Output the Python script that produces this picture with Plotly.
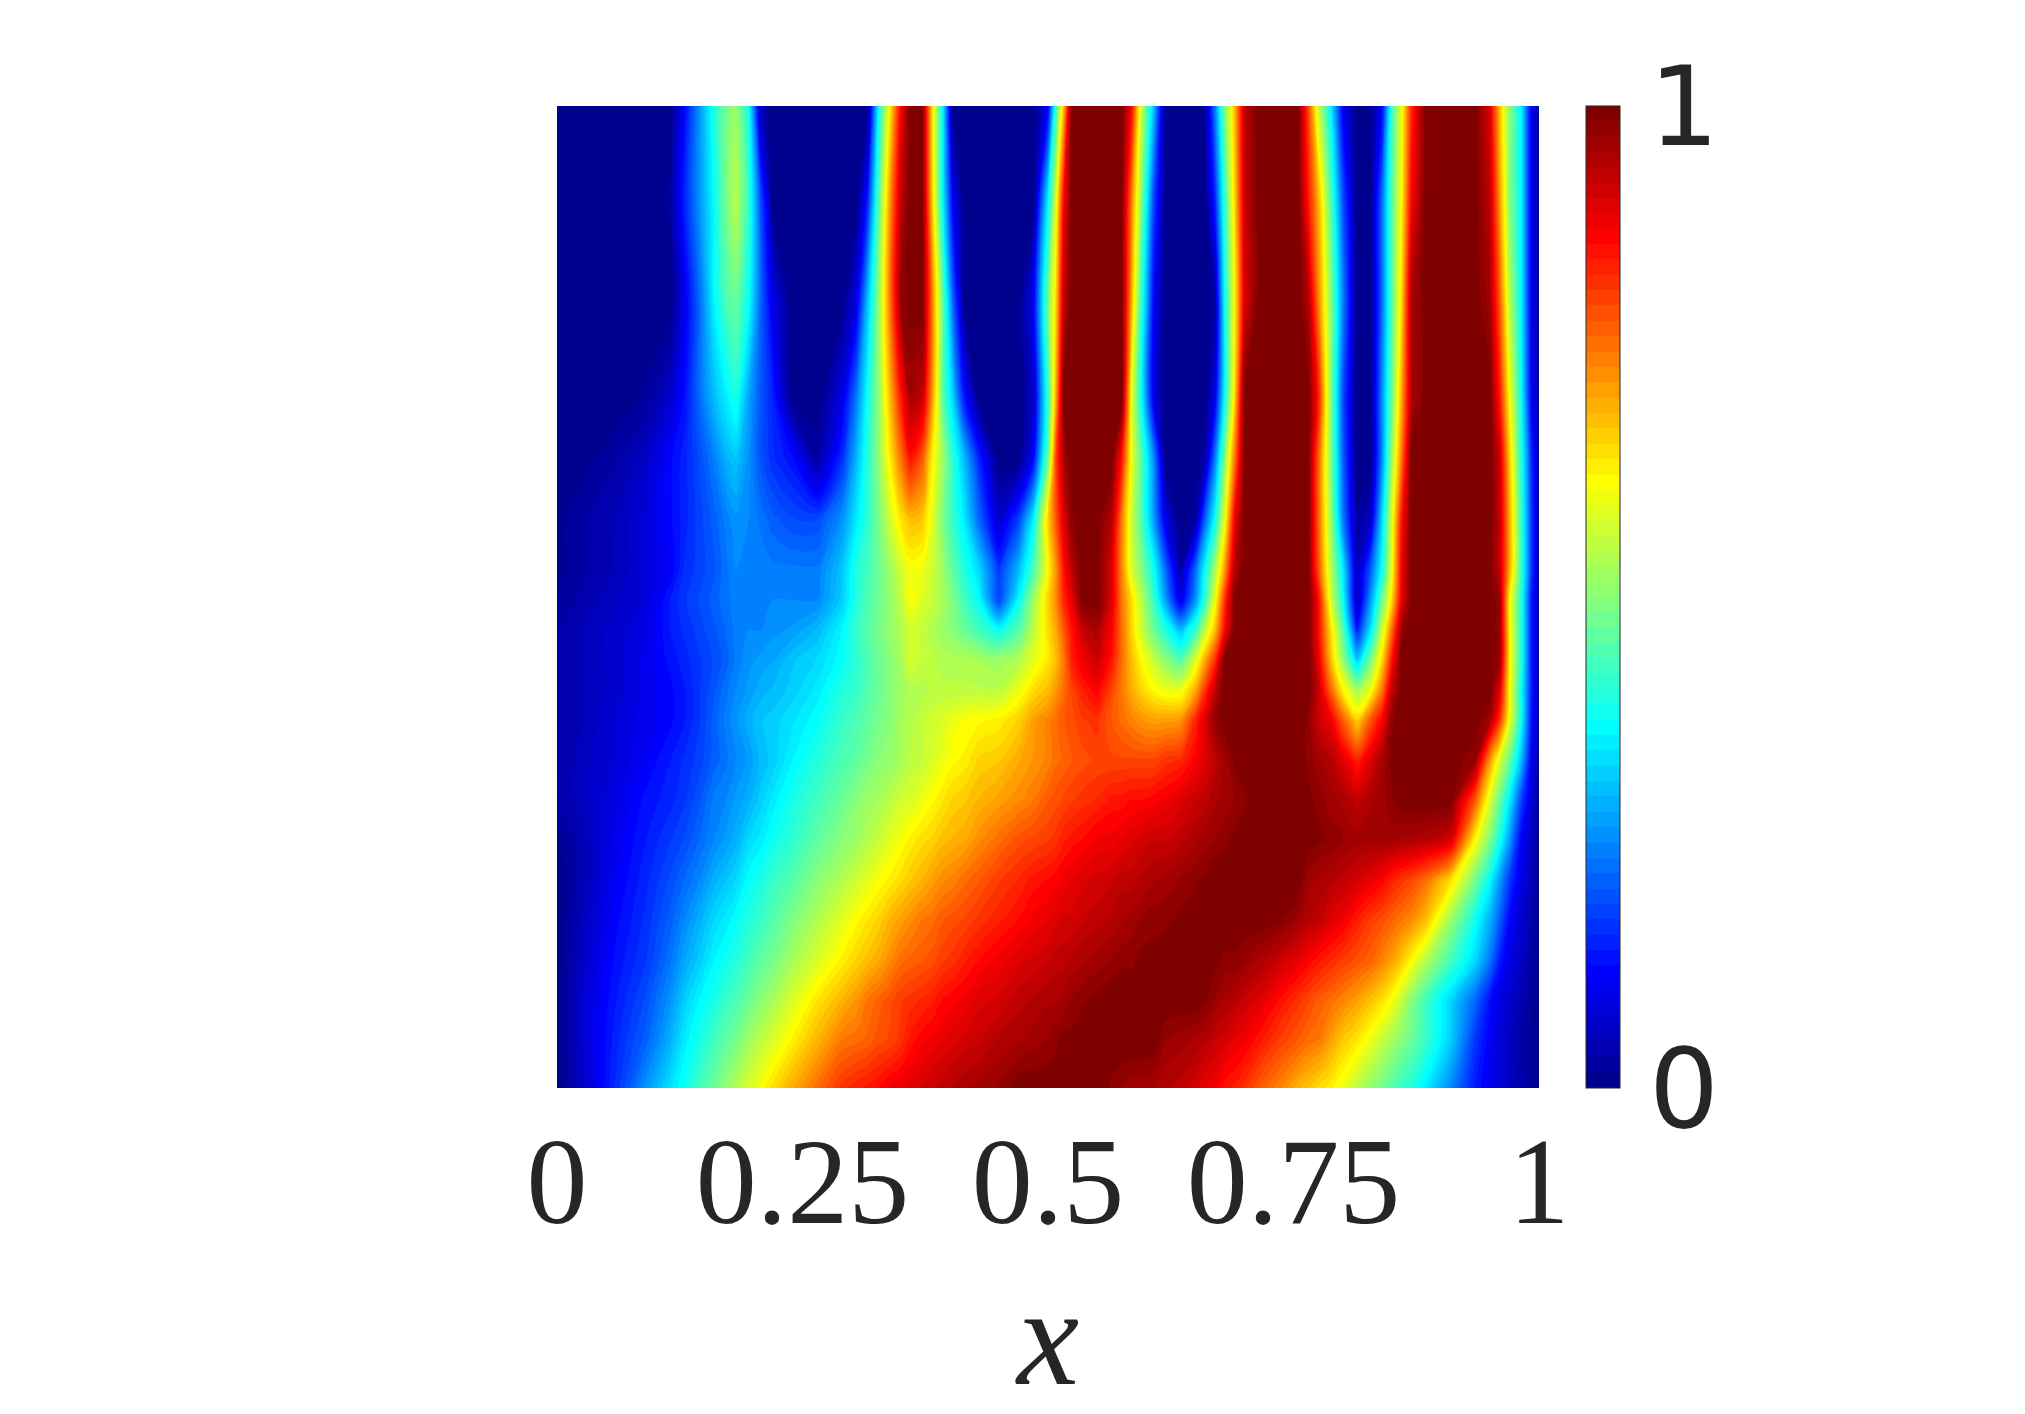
import plotly.graph_objects as go

# positions along x (thousandths of the axis), levels along the vertical axis (top to bottom)
x_thousandths = [0,30,60,90, 115,130,145,160,172,182,195,207,220, 240,265,290,305,
                 316,327,339,350,360,372,382,393,403, 415,430,450,470,485,
                 500,508,516,524,535,550,565,575, 585,595,608,620,635,650,660,
                 670,680,690,700,715,735,755, 765,775,788,800,815,828,
                 840,850,860,870,885,910,935, 950,960,970,982,992,1000]
t_levels = [1.0,.904,.802,.701,.640,.578,.527,.497,.466,.436,.405,.375,.334,.293,.253,.212,.171,.130,.090,.049,0.0]

# field values in percent; one row per t level
z_percent = [
[0,0,0,0, 0,12,26,40,48,52,39,5,0, 0,0,0,0, 0,36,63,87,100,100,65,36,0, 0,0,0,0,0, 11,42,68,100,100,100,100,100, 87,57,30,0,0,0,2, 24,49,68,93,100,100,100, 80,57,36,11,0,0, 11,42,60,83,100,100,100, 90,68,50,36,11,2],
[0,0,0,0, 2,15,26,37,48,55,42,20,0, 0,0,0,0, 14,44,72,93,100,100,67,36,11, 0,0,0,0,0, 36,58,87,100,100,100,100,100, 75,50,18,0,0,0,0, 15,42,65,92,100,100,100, 85,70,45,20,0,0, 22,45,62,87,100,100,100, 93,72,50,36,11,2],
[0,0,0,0, 0,10,22,36,44,47,38,22,9, 0,0,0,9, 30,50,75,97,100,100,75,46,22, 0,0,0,0,10, 48,65,93,100,100,100,100,100, 70,42,11,0,0,0,0, 3,38,62,90,100,100,100, 95,75,50,25,0,0, 22,45,65,95,100,100,100, 96,78,55,36,11,2],
[0,0,0,2, 7,13,22,30,35,39,28,20,15, 1,0,9,24, 38,50,68,84,95,92,72,46,33, 14,0,0,0,6, 42,70,100,100,100,100,100,100, 60,38,9,0,0,0,0, 10,38,65,100,100,100,100, 100,85,50,20,0,0, 25,47,70,95,100,100,100, 100,85,62,38,12,2],
[0,1,3,6, 12,15,19,24,29,31,26,20,16, 13,3,16,30, 40,50,63,75,85,78,63,52,41, 30,15,0,0,12, 48,80,95,100,100,100,100,85, 60,45,25,0,0,0,4, 24,50,75,100,100,100,100, 100,78,50,22,0,0, 25,52,75,100,100,100,100, 100,92,67,40,17,3],
[1,3,5,8, 12,15,18,21,24,26,25,23,21, 19,19,26,35, 41,48,57,64,68,67,59,49,42, 35,22,7,18,36, 66,78,90,98,100,100,94,75, 57,45,27,9,0,3,22, 38,60,88,100,100,100,100, 100,78,52,25,2,6, 33,58,85,100,100,100,100, 100,93,70,42,18,3],
[1,3,5,8, 11,16,18,20,23,25,25,25,24, 24,24,31,40, 43,47,52,57,61,60,57,52,46, 40,33,17,30,44, 62,72,85,93,100,100,90,74, 58,50,38,22,3,22,38, 53,72,95,100,100,100,100, 100,80,55,36,5,20, 38,60,88,100,100,100,100, 100,93,70,42,18,3],
[2,4,6,8, 14,17,19,21,23,24,25,25,25, 25,25,32,40, 44,47,51,55,62,58,56,53,49, 43,37,18,37,52, 66,73,83,89,99,100,90,75, 65,55,42,27,9,26,42, 60,82,100,100,100,100,100, 100,87,58,39,5,26, 47,65,89,100,100,100,100, 100,97,62,40,15,3],
[3,5,7,9, 14,16,18,20,22,24,25,25,26, 27,30,36,42, 45,48,51,54,57,56,54,52,50, 47,43,38,45,55, 65,70,78,85,92,95,87,76, 66,57,47,40,31,42,56, 68,87,100,100,100,100,100, 100,87,65,46,15,34, 56,76,97,100,100,100,100, 100,97,63,40,15,3],
[3,5,7,10, 13,15,17,19,21,24,26,27,28, 31,33,37,41, 44,47,50,53,58,56,55,54,54, 54,53,52,54,59, 64,68,75,84,88,92,85,76, 68,62,56,50,45,58,70, 82,100,100,100,100,100,100, 100,90,68,52,32,48, 65,85,100,100,100,100,100, 100,97,63,40,15,3],
[3,5,7,10, 12,14,17,20,23,25,27,29,30, 32,35,40,42, 45,47,50,52,54,54,55,55,55, 55,55,55,60,65, 68,72,76,80,84,87,80,75, 70,66,62,60,60,70,82, 93,100,100,100,100,100,100, 100,93,77,63,53,60, 75,93,100,100,100,100,100, 100,90,62,38,15,3],
[3,5,8,10, 12,14,17,21,24,26,29,31,32, 34,37,42,44, 46,48,50,53,54,56,57,58,60, 61,62,63,66,71, 74,76,78,79,81,82,78,76, 74,72,71,71,72,83,90, 97,100,100,100,100,100,100, 98,92,88,78,66,78, 87,98,100,100,100,100,100, 96,82,60,38,14,3],
[3,6,8,11, 14,16,18,21,23,25,27,30,32, 36,40,44,46, 48,50,51,53,55,56,58,60,62, 63,66,67,70,72, 74,76,77,78,79,80,80,80, 80,80,80,82,83,87,90, 93,96,99,100,100,100,100, 98,96,94,90,84,90, 95,99,100,100,100,100,97, 72,58,47,30,11,2],
[3,6,9,13, 15,17,20,24,25,27,29,32,35, 39,43,47,50, 52,53,55,57,58,60,62,64,66, 67,69,71,73,75, 78,79,80,81,82,83,85,85, 86,86,87,88,90,92,93, 95,96,97,98,100,100,100, 99,98,96,95,93,95, 96,98,100,100,100,100,78, 58,47,35,18,8,2],
[1,5,10,14, 17,19,22,25,27,29,33,35,38, 41,46,50,52, 54,56,59,61,63,65,66,68,69, 70,73,76,79,80, 81,82,84,85,86,88,88,89, 90,91,92,92,93,95,96, 97,98,99,100,100,100,100, 100,99,98,97,96,96, 96,96,95,95,94,91,62, 49,39,27,11,6,1],
[0,5,11,15, 19,22,25,29,31,33,37,39,42, 45,50,54,57, 59,61,63,65,67,69,71,73,74, 76,78,81,83,85, 86,87,88,89,90,91,92,93, 93,94,95,96,97,98,99, 100,100,100,100,100,100,100, 96,95,94,93,91,89, 87,84,82,80,76,65,48, 37,27,17,9,5,1],
[0,6,12,16, 21,25,29,33,35,37,40,42,45, 49,54,59,62, 64,66,69,71,73,75,76,78,79, 80,82,84,86,88, 89,90,91,91,92,93,94,95, 96,97,98,98,99,100,100, 100,100,100,100,100,99,96, 94,93,90,88,84,81, 79,77,75,73,68,52,38, 29,21,12,7,4,1],
[0,7,13,17, 23,28,32,36,38,40,43,46,48, 53,58,63,66, 68,70,73,76,77,78,79,81,82, 84,86,88,90,91, 92,93,93,94,95,96,97,98, 98,99,99,100,100,100,100, 99,98,98,97,95,92,89, 87,85,83,81,79,77, 74,71,67,62,54,43,33, 23,14,9,6,3,1],
[0,8,14,19, 26,32,36,39,42,44,47,50,53, 58,64,69,72, 75,77,79,81,82,83,84,86,87, 88,90,91,93,94, 95,95,96,97,98,99,100,100, 100,100,100,100,100,100,99, 97,95,94,92,90,86,82, 80,78,76,74,71,68, 65,61,56,50,43,33,22, 13,9,7,4,2,0],
[0,8,15,21, 29,35,39,43,46,48,52,55,58, 63,69,75,76, 77,79,80,82,85,87,88,89,90, 91,92,94,95,96, 97,98,99,99,100,100,100,100, 100,100,100,97,96,95,94, 92,91,89,88,85,81,78, 76,75,71,67,64,60, 56,53,50,47,42,32,17, 11,8,6,3,2,0],
[0,7,16,26, 34,38,43,47,51,54,58,61,65, 70,76,82,84, 85,86,88,89,90,91,92,93,94, 95,96,97,100,100, 100,100,100,100,100,100,98,97, 96,96,95,94,93,91,89, 88,85,84,82,78,74,69, 67,65,63,60,55,51, 48,45,42,40,35,25,14, 10,8,6,4,2,0],
]
tick_values = [0, 0.25, 0.5, 0.75, 1]
tick_labels = ["0", "0.25", "0.5", "0.75", "1"]
bar_values = [0, 1]
bar_labels = ["0", "1"]

assert all(len(r) == len(x_thousandths) for r in z_percent), [len(r) for r in z_percent]
assert len(z_percent) == len(t_levels)

jet = [[0, "#00008f"], [0.0078, "#00008f"], [0.117, "#0000ff"], [0.367, "#00ffff"], [0.492, "#80ff80"],
       [0.617, "#ffff00"], [0.867, "#ff0000"], [0.992, "#800000"], [1, "#800000"]]
INK = "#262626"

fig = go.Figure(go.Contour(
    x=[v / 1000 for v in x_thousandths],
    y=t_levels[::-1],
    z=[[v / 100 for v in row] for row in z_percent[::-1]],
    zmin=0, zmax=1, colorscale=jet,
    contours=dict(start=0, end=1, size=1 / 64, coloring="fill", showlines=False),
    line=dict(width=0),
    hoverinfo="skip",
    colorbar=dict(
        x=1.048, xanchor="left", xpad=0, y=0.5, yanchor="middle", ypad=0, len=1,
        thickness=34, thicknessmode="pixels",
        outlinewidth=1, outlinecolor=INK, borderwidth=0,
        tickmode="array", tickvals=bar_values, ticktext=bar_labels,
        ticks="outside", ticklen=7, tickcolor="rgba(0,0,0,0)",
        tickfont=dict(family="DejaVu Sans", size=110, color=INK),
    ),
))
fig.update_layout(
    width=2025, height=1414, autosize=False,
    margin=dict(l=557, r=486, t=106, b=326, pad=0),
    paper_bgcolor="white", plot_bgcolor="white", showlegend=False,
    xaxis=dict(
        range=[0, 1], tickmode="array", tickvals=tick_values, ticktext=tick_labels,
        ticks="", showgrid=False, zeroline=False, showline=False, ticklabelstandoff=12,
        tickangle=0,
        tickfont=dict(family="Liberation Serif", size=122, color=INK),
        title=dict(text="<i>x</i>", font=dict(family="Liberation Serif", size=140, color=INK), standoff=44),
    ),
    yaxis=dict(range=[0, 1], visible=False),
)
fig.write_html("out.html", config={"displayModeBar": False}, post_script="document.body.style.margin='0';")
